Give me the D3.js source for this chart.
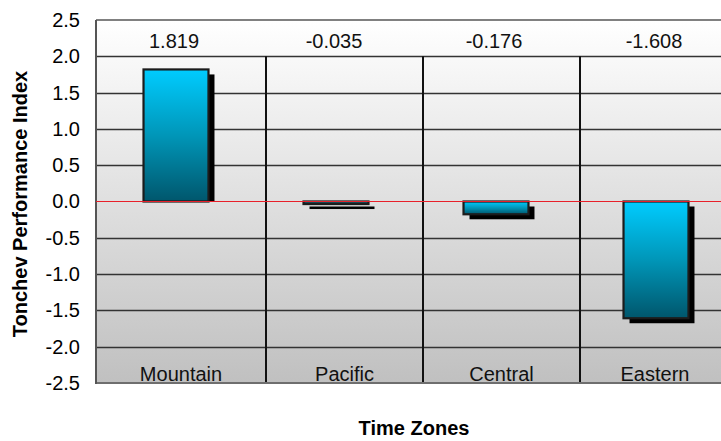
<!DOCTYPE html>
<html>
<head>
<meta charset="utf-8">
<script src="https://cdn.jsdelivr.net/npm/d3@7/dist/d3.min.js"></script>
<style>
  html, body { margin: 0; padding: 0; background: #fff; }
  svg { display: block; font-family: Arial, "Liberation Sans", sans-serif; }
</style>
</head>
<body>
<svg id="chart" width="721" height="441"></svg>
<script>
// Time zone performance data
const categories = ["Mountain", "Pacific", "Central", "Eastern"];
const values = [1.819, -0.035, -0.176, -1.608];
const yTicks = [-2.5, -2.0, -1.5, -1.0, -0.5, 0.0, 0.5, 1.0, 1.5, 2.0, 2.5];
const yTitle = "Tonchev Performance Index";
const xTitle = "Time Zones";

const svg = d3.select("#chart");
const plot = { left: 96, top: 20, right: 730, bottom: 383 };

// number formats with a plain hyphen for negatives
const fmt1 = v => d3.format(".1f")(v).replace("\u2212", "-");
const fmt3 = v => d3.format(".3f")(v).replace("\u2212", "-");

const y = d3.scaleLinear().domain([-2.5, 2.5]).range([plot.bottom, plot.top]);
// bar placement
const xBar = d3.scaleBand().domain(categories).range([96, 736]).padding(0);
const barW = xBar.bandwidth() * 0.406;
const barCx = c => xBar(c) + xBar.bandwidth() / 2;
// category separators
const xCat = d3.scaleBand().domain(categories).range([109, 737]).padding(0);
const separators = categories.slice(1).map(c => xCat(c));
const slotEdges = [plot.left, ...separators, plot.right];

const defs = svg.append("defs");
const bg = defs.append("linearGradient").attr("id", "bgGrad")
  .attr("x1", 0).attr("y1", 0).attr("x2", 0).attr("y2", 1);
bg.append("stop").attr("offset", "0%").attr("stop-color", "#ffffff");
bg.append("stop").attr("offset", "100%").attr("stop-color", "#c0c0c0");

const barGrad = defs.append("linearGradient").attr("id", "barGrad")
  .attr("x1", 0).attr("y1", 0).attr("x2", 0).attr("y2", 1);
barGrad.append("stop").attr("offset", "0%").attr("stop-color", "#00ccff");
barGrad.append("stop").attr("offset", "50%").attr("stop-color", "#0096b8");
barGrad.append("stop").attr("offset", "100%").attr("stop-color", "#00566c");

const clip = defs.append("clipPath").attr("id", "plotClip");
clip.append("rect").attr("x", plot.left).attr("y", plot.top)
  .attr("width", plot.right - plot.left).attr("height", plot.bottom - plot.top);

// plot background
svg.append("rect")
  .attr("x", plot.left).attr("y", plot.top)
  .attr("width", plot.right - plot.left).attr("height", plot.bottom - plot.top)
  .attr("fill", "url(#bgGrad)");

// horizontal gridlines
const gridVals = yTicks.filter(v => v > -2.5 && v < 2.5 && v !== 0);
svg.append("g").selectAll("line").data(gridVals).join("line")
  .attr("x1", plot.left).attr("x2", plot.right)
  .attr("y1", d => Math.round(y(d)) + 0.5).attr("y2", d => Math.round(y(d)) + 0.5)
  .attr("stroke", "#333").attr("stroke-width", 1.3);

// vertical category separators
svg.append("g").selectAll("line").data(separators).join("line")
  .attr("x1", d => d).attr("x2", d => d)
  .attr("y1", y(2.0)).attr("y2", plot.bottom)
  .attr("stroke", "#111").attr("stroke-width", 2);

// frame
svg.append("line").attr("x1", plot.left).attr("x2", plot.right)
  .attr("y1", plot.top).attr("y2", plot.top)
  .attr("stroke", "#808080").attr("stroke-width", 2);
svg.append("line").attr("x1", plot.left).attr("x2", plot.right)
  .attr("y1", plot.bottom).attr("y2", plot.bottom)
  .attr("stroke", "#6e6e6e").attr("stroke-width", 2);
svg.append("line").attr("x1", plot.left).attr("x2", plot.left)
  .attr("y1", plot.top).attr("y2", plot.bottom + 1)
  .attr("stroke", "#555").attr("stroke-width", 2);

const data = categories.map((c, i) => ({ c, v: values[i] }));
const bars = svg.append("g").attr("clip-path", "url(#plotClip)");

// drop shadows
bars.selectAll("rect.shadow").data(data).join("rect")
  .attr("class", "shadow")
  .attr("x", d => barCx(d.c) - barW / 2 + 6)
  .attr("y", d => Math.min(y(d.v), y(0)) + 5)
  .attr("width", barW)
  .attr("height", d => d.v >= 0 ? Math.abs(y(d.v) - y(0)) - 5 : Math.abs(y(d.v) - y(0)))
  .attr("fill", "#000");

// bars
bars.selectAll("rect.bar").data(data).join("rect")
  .attr("class", "bar")
  .attr("x", d => barCx(d.c) - barW / 2)
  .attr("y", d => Math.min(y(d.v), y(0)))
  .attr("width", barW)
  .attr("height", d => Math.abs(y(d.v) - y(0)))
  .attr("fill", "url(#barGrad)")
  .attr("stroke", "#1c1c1c").attr("stroke-width", 2.2);

// zero line
svg.append("line").attr("x1", plot.left).attr("x2", plot.right)
  .attr("y1", y(0)).attr("y2", y(0))
  .attr("stroke", "#e8202a").attr("stroke-width", 1.2);

// y axis tick labels
const yAxis = d3.axisLeft(y).tickValues(yTicks).tickFormat(fmt1)
  .tickSize(0).tickPadding(16);
const gy = svg.append("g").attr("transform", `translate(${plot.left},0)`).call(yAxis);
gy.select(".domain").remove();
gy.selectAll("text").attr("font-size", 20).attr("fill", "#000")
  .attr("font-family", "Arial, 'Liberation Sans', sans-serif");

// category labels, centred between separators
svg.append("g").selectAll("text").data(categories).join("text")
  .attr("x", (d, i) => (slotEdges[i] + slotEdges[i + 1]) / 2)
  .attr("y", 381)
  .attr("text-anchor", "middle")
  .attr("font-size", 20).attr("fill", "#111")
  .text(d => d);

// value labels
svg.append("g").selectAll("text").data(data).join("text")
  .attr("x", d => barCx(d.c) - 2)
  .attr("y", 48)
  .attr("text-anchor", "middle")
  .attr("font-size", 20).attr("fill", "#111")
  .text(d => fmt3(d.v));

// axis titles
svg.append("text")
  .attr("transform", `translate(27,204) rotate(-90)`)
  .attr("text-anchor", "middle")
  .attr("font-size", 20).attr("font-weight", "bold").attr("fill", "#000")
  .text(yTitle);

svg.append("text")
  .attr("x", 414).attr("y", 435)
  .attr("text-anchor", "middle")
  .attr("font-size", 20).attr("font-weight", "bold").attr("fill", "#000")
  .text(xTitle);
</script>
</body>
</html>
